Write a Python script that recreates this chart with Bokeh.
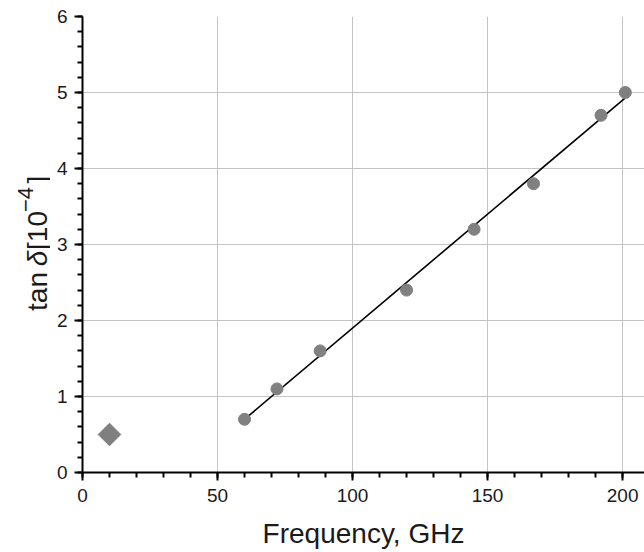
import math
from bokeh.plotting import figure
from bokeh.layouts import row
from bokeh.models import FixedTicker, Label, ColumnDataSource
from bokeh.embed import file_html
from bokeh.resources import INLINE

# data
freq_ghz = [60, 72, 88, 120, 145, 167, 192, 201]
tan_delta = [0.7, 1.1, 1.6, 2.4, 3.2, 3.8, 4.7, 5.0]
low_freq = [10]
low_tan = [0.5]
fit_x = [60, 201]
fit_y = [0.7, 4.93]
x_major = [0, 50, 100, 150, 200]
x_minor = [v for v in range(0, 210, 10)]
y_major = [0, 1, 2, 3, 4, 5, 6]
y_minor = [round(i * 0.2, 1) for i in range(0, 31)]

FONT = "Liberation Sans"
X_END = 208.1
W, H = 644, 552
LEFT_W = 50
TOP, BOTTOM = 16, 80

p = figure(width=W - LEFT_W, height=H, output_backend="svg", toolbar_location=None,
           x_range=(0, X_END), y_range=(0, 6),
           min_border_left=82 - LEFT_W, min_border_right=0, min_border_top=TOP, min_border_bottom=BOTTOM)
p.outline_line_color = None
p.background_fill_color = "white"
p.border_fill_color = "white"

# grids
p.xgrid.ticker = FixedTicker(ticks=[50, 100, 150, 200])
p.ygrid.ticker = FixedTicker(ticks=[1, 2, 3, 4, 5])
for g in (p.xgrid, p.ygrid):
    g.grid_line_color = "#c4c4c4"
    g.grid_line_width = 1

# axes
p.xaxis.ticker = FixedTicker(ticks=x_major, minor_ticks=x_minor)
p.yaxis.ticker = FixedTicker(ticks=y_major, minor_ticks=y_minor)
for ax in (p.xaxis, p.yaxis):
    ax.axis_line_color = "black"
    ax.axis_line_width = 2
    ax.major_tick_line_color = "black"
    ax.major_tick_line_width = 2
    ax.minor_tick_line_color = "black"
    ax.minor_tick_line_width = 2
    ax.major_tick_out = 8
    ax.major_tick_in = 0
    ax.minor_tick_out = 5
    ax.minor_tick_in = 0
    ax.major_label_text_font = FONT
    ax.major_label_text_font_size = "19px"
    ax.major_label_text_color = "#1a1a1a"
p.xaxis.major_label_standoff = 8
p.yaxis.major_label_standoff = 7
p.xaxis.axis_label = "Frequency, GHz"
p.xaxis.axis_label_text_font = FONT
p.xaxis.axis_label_text_font_size = "28px"
p.xaxis.axis_label_text_font_style = "normal"
p.xaxis.axis_label_text_color = "#1a1a1a"
p.xaxis.axis_label_standoff = 13

# data marks
src = ColumnDataSource(dict(x=freq_ghz, y=tan_delta))
p.line(fit_x, fit_y, line_color="black", line_width=1.6)
p.scatter("x", "y", source=src, size=12, marker="circle", fill_color="#808080", line_color="#808080")
p.scatter(low_freq, low_tan, size=16, marker="square", angle=math.pi / 4,
          fill_color="#7f7f7f", line_color="#7f7f7f")

# left strip holding the composed y-axis title; its frame is aligned with the main frame,
# so its y range is chosen so that one data unit = one canvas pixel
t = figure(width=LEFT_W, height=H, output_backend="svg", toolbar_location=None,
           x_range=(0, LEFT_W), y_range=(BOTTOM, H - TOP),
           min_border_left=0, min_border_right=0, min_border_top=TOP, min_border_bottom=BOTTOM)
t.axis.visible = False
t.grid.visible = False
t.outline_line_color = None
t.background_fill_color = "white"
t.border_fill_color = "white"

def ylab(text, cx, cy, size="28px", style="normal"):
    t.add_layout(Label(x=cx, y=H - cy, text=text, angle=math.pi / 2, text_align="center",
                       text_baseline="middle", text_font=FONT,
                       text_font_size=size, text_font_style=style, text_color="#1a1a1a"))

ylab("tan", 37, 291)
ylab("δ", 37, 258, style="italic")
ylab("[10", 37, 230)
ylab("−4", 25, 199, size="22px")
ylab("]", 37, 179)

layout = row(t, p, spacing=0)
open("out.html", "w").write(file_html(layout, INLINE))
